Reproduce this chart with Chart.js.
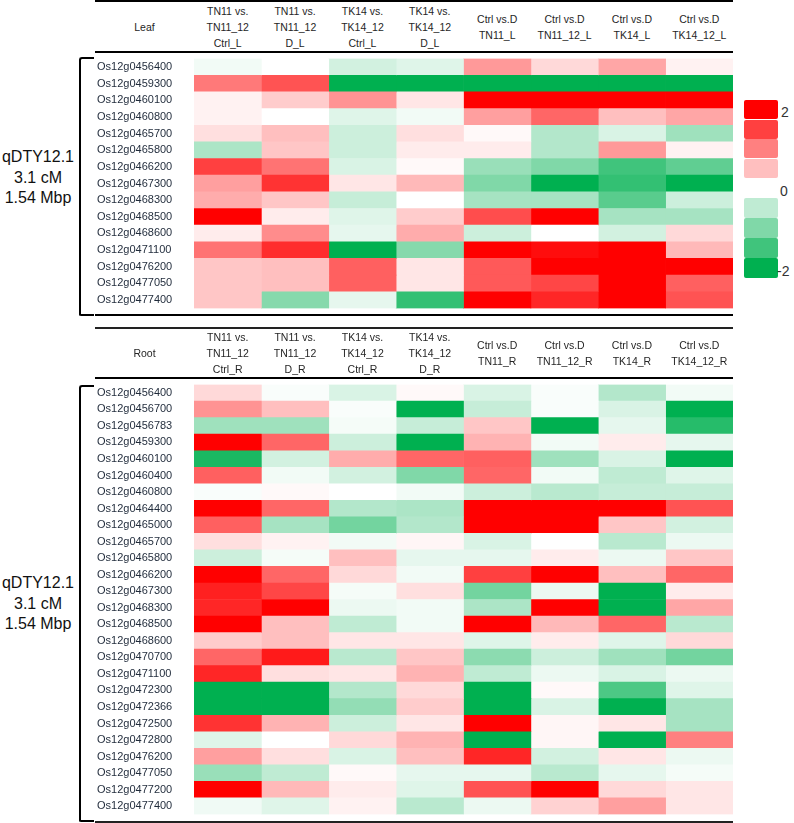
<!DOCTYPE html>
<html>
<head>
<meta charset="utf-8">
<script src="https://cdn.jsdelivr.net/npm/chart.js@4.4.0/dist/chart.umd.min.js"></script>
<style>
  body { margin: 0; background: #fff; font-family: "Liberation Sans", Arial, sans-serif; color: #262626; }
  #page { position: relative; width: 794px; height: 823px; overflow: hidden; }
  .rule { position: absolute; left: 95px; width: 638px; background: #000; }
  .head { position: absolute; left: 95px; width: 638px; display: flex; }
  .head div { display: flex; flex-direction: column; justify-content: center; align-items: center; font-size: 10.5px; line-height: 16px; white-space: nowrap; }
  .head .rowname { width: 99px; }
  .head .col { flex: 1; }
  .bracket { position: absolute; left: 79px; width: 13px; border-left: 2px solid #000; border-top: 2px solid #000; border-bottom: 2px solid #000; border-top-left-radius: 3px; border-bottom-left-radius: 2px; }
  .qtl { position: absolute; left: 0; width: 76px; text-align: center; font-size: 16px; line-height: 20.5px; color: #111; }
  .box { position: absolute; left: 744px; width: 34px; border-radius: 2px; }
  .tick { position: absolute; font-size: 14px; color: #333; }
  canvas { position: absolute; left: 97px; }
</style>
</head>
<body>
<div id="page">
  <!-- Leaf -->
  <div class="rule" style="top:0;height:2px"></div>
  <div class="head" id="leafHead" style="top:2px;height:49px"></div>
  <div class="rule" style="top:51px;height:1.5px"></div>
  <canvas id="leafChart" width="636" height="263" style="top:52px"></canvas>
  <div class="rule" style="top:314px;height:2px"></div>
  <div class="bracket" style="top:57px;height:255px"></div>
  <div class="qtl" style="top:147px">qDTY12.1<br>3.1 cM<br>1.54 Mbp</div>

  <!-- Root -->
  <div class="rule" style="top:327px;height:2px;background:#222"></div>
  <div class="head" id="rootHead" style="top:329px;height:48px"></div>
  <div class="rule" style="top:377px;height:1.5px"></div>
  <canvas id="rootChart" width="636" height="443" style="top:378px"></canvas>
  <div class="rule" style="top:821px;height:2px;background:#222"></div>
  <div class="bracket" style="top:385px;height:433px"></div>
  <div class="qtl" style="top:573px">qDTY12.1<br>3.1 cM<br>1.54 Mbp</div>

  <div id="legend"></div>
</div>

<script>
// Column headers
const leafColumns = [
  ["TN11 vs.", "TN11_12", "Ctrl_L"],
  ["TN11 vs.", "TN11_12", "D_L"],
  ["TK14 vs.", "TK14_12", "Ctrl_L"],
  ["TK14 vs.", "TK14_12", "D_L"],
  ["Ctrl vs.D", "TN11_L"],
  ["Ctrl vs.D", "TN11_12_L"],
  ["Ctrl vs.D", "TK14_L"],
  ["Ctrl vs.D", "TK14_12_L"],
];
const rootColumns = [
  ["TN11 vs.", "TN11_12", "Ctrl_R"],
  ["TN11 vs.", "TN11_12", "D_R"],
  ["TK14 vs.", "TK14_12", "Ctrl_R"],
  ["TK14 vs.", "TK14_12", "D_R"],
  ["Ctrl vs.D", "TN11_R"],
  ["Ctrl vs.D", "TN11_12_R"],
  ["Ctrl vs.D", "TK14_R"],
  ["Ctrl vs.D", "TK14_12_R"],
];

// Leaf genes and log2 fold changes (rows x columns)
const leafGenes = [
  "Os12g0456400", "Os12g0459300", "Os12g0460100", "Os12g0460800", "Os12g0465700",
  "Os12g0465800", "Os12g0466200", "Os12g0467300", "Os12g0468300", "Os12g0468500",
  "Os12g0468600", "Os12g0471100", "Os12g0476200", "Os12g0477050", "Os12g0477400",
];
const leafValues = [
  [-0.1, 0, -0.35, -0.25, 0.8, 0.3, 0.7, 0.1],
  [1.05, 1.35, -2, -2, -2, -2, -2, -2],
  [0.1, 0.4, 0.85, 0.2, 2, 2, 2, 2],
  [0.1, 0, -0.25, -0.1, 0.75, 1.2, 0.5, 0.7],
  [0.25, 0.5, -0.4, 0.25, 0.05, -0.6, -0.3, -0.75],
  [-0.65, 0.45, -0.4, 0.15, 0.15, -0.6, 0.8, 0.1],
  [1.5, 1.1, -0.3, 0.05, -0.8, -1.0, -1.5, -1.25],
  [0.75, 1.6, 0.2, 0.55, -1.0, -2, -1.6, -2],
  [0.65, 0.45, -0.45, 0, -0.7, -0.7, -1.3, -0.4],
  [2, 0.15, -0.25, 0.4, 1.4, 2, -0.7, -0.7],
  [0.15, 0.9, -0.2, 0.65, -0.4, 0, -0.35, 0.3],
  [1.1, 1.65, -2, -0.95, 2, 1.9, 2, 0.55],
  [0.45, 0.5, 1.25, 0.2, 1.3, 2, 2, 2],
  [0.45, 0.5, 1.25, 0.2, 1.3, 1.45, 2, 1.25],
  [0.45, -0.95, -0.2, -1.6, 2, 1.7, 2, 1.35],
];

// Root genes and values
const rootGenes = [
  "Os12g0456400", "Os12g0456700", "Os12g0456783", "Os12g0459300", "Os12g0460100",
  "Os12g0460400", "Os12g0460800", "Os12g0464400", "Os12g0465000", "Os12g0465700",
  "Os12g0465800", "Os12g0466200", "Os12g0467300", "Os12g0468300", "Os12g0468500",
  "Os12g0468600", "Os12g0470700", "Os12g0471100", "Os12g0472300", "Os12g0472366",
  "Os12g0472500", "Os12g0472800", "Os12g0476200", "Os12g0477050", "Os12g0477200",
  "Os12g0477400",
];
const rootValues = [
  [0.3, -0.05, -0.3, 0.05, -0.3, -0.05, -0.6, -0.1],
  [0.85, 0.5, -0.05, -2, -0.45, -0.05, -0.3, -2],
  [-0.75, -0.75, -0.08, -0.45, 0.45, -2, -0.2, -1.7],
  [2, 1.2, -0.4, -2, 0.6, -0.1, 0.15, -0.2],
  [-1.8, -0.35, 0.65, 1.2, 1.25, -0.75, -0.3, -2],
  [1.25, -0.1, -0.35, -1.0, 1.2, -0.1, -0.5, -0.25],
  [-0.05, 0.05, 0, -0.1, -0.4, -0.55, -0.45, -0.45],
  [2, 1.2, -0.6, -0.65, 2, 2, 2, 1.35],
  [1.25, -0.7, -1.1, -0.6, 2, 2, 0.45, -0.35],
  [0.25, 0.1, -0.1, 0.07, -0.3, 0, -0.55, -0.15],
  [-0.4, -0.08, 0.5, -0.2, -0.2, 0.15, -0.15, 0.45],
  [2, 1.2, 0.3, -0.1, 1.5, 2, 0.5, 1.2],
  [1.75, 1.45, -0.08, 0.25, -1.1, -0.15, -2, 0.15],
  [1.7, 2, -0.15, -0.1, -0.65, 2, -2, 0.7],
  [2, 0.5, -0.5, -0.1, 2, 0.55, 1.2, -0.55],
  [0.4, 0.5, 0.2, 0.2, -0.25, 0.15, -0.25, 0.3],
  [1.2, 1.8, -0.55, 0.45, -0.9, -0.4, -0.75, -1.1],
  [1.7, 0.25, 0.2, 0.6, -0.5, -0.15, -0.3, -0.15],
  [-2, -2, -0.6, 0.3, -2, 0.05, -1.4, -0.25],
  [-2, -2, -0.85, 0.4, -2, -0.3, -2, -0.7],
  [1.6, 0.6, -0.4, 0.2, 2, 0.07, 0.2, -0.7],
  [-0.25, 0, 0.3, 0.6, -2, 0.07, -2, 1.0],
  [0.75, 0.25, -0.3, 0.5, 1.7, -0.35, 0.2, -0.15],
  [-0.8, -0.5, 0.05, -0.2, -0.2, -0.55, -0.2, -0.08],
  [2, 0.55, 0.15, -0.25, 1.35, 2, 0.3, 0.2],
  [-0.12, -0.25, 0.1, -0.55, -0.15, 0.35, 0.75, 0.2],
];

// Legend steps
const legendRed = [2, 1.5, 1, 0.5];
const legendGreen = [-0.5, -1, -1.5, -2];

// white -> red for up, white -> green for down
function valueColor(v) {
  const t = Math.min(Math.abs(v) / 2, 1);
  const end = v >= 0 ? [255, 0, 0] : [0, 176, 80];
  const c = end.map((e) => Math.round(255 + (e - 255) * t));
  return "rgb(" + c.join(",") + ")";
}

function buildHead(id, title, columns) {
  const head = document.getElementById(id);
  let html = '<div class="rowname">' + title + "</div>";
  columns.forEach(function (lines) {
    html += '<div class="col">' + lines.map((l) => "<span>" + l + "</span>").join("") + "</div>";
  });
  head.innerHTML = html;
}

buildHead("leafHead", "Leaf", leafColumns);
buildHead("rootHead", "Root", rootColumns);

Chart.defaults.font.family = '"Liberation Sans", Arial, sans-serif';
Chart.defaults.font.size = 11;
Chart.defaults.color = "#262626";

function heatmap(canvasId, genes, columns, values) {
  const datasets = columns.map(function (col, j) {
    return {
      label: col.join(" "),
      data: genes.map(() => 1),
      backgroundColor: values.map((row) => valueColor(row[j])),
      borderWidth: 0,
      barPercentage: 1,
      categoryPercentage: 1,
    };
  });

  return new Chart(document.getElementById(canvasId), {
    type: "bar",
    data: { labels: genes, datasets: datasets },
    options: {
      indexAxis: "y",
      responsive: false,
      animation: false,
      layout: { padding: 0 },
      plugins: {
        legend: { display: false },
        tooltip: {
          callbacks: {
            label: function (context) {
              return context.dataset.label + ": " + values[context.dataIndex][context.datasetIndex];
            },
          },
        },
      },
      scales: {
        x: { stacked: true, min: 0, max: columns.length, display: false },
        y: {
          stacked: true,
          grid: { display: false },
          border: { display: false },
          ticks: { autoSkip: false, crossAlign: "far", padding: 0, color: "#1f2a3a" },
          afterFit: function (scale) {
            scale.width = 97;
          },
        },
      },
    },
  });
}

heatmap("leafChart", leafGenes, leafColumns, leafValues);
heatmap("rootChart", rootGenes, rootColumns, rootValues);

// Colour key
const legend = document.getElementById("legend");
let legendHtml = "";
legendRed.forEach(function (v, i) {
  legendHtml += '<div class="box" style="top:' + (100 + i * 19.5) + 'px;height:19px;background:' + valueColor(v) + '"></div>';
});
legendGreen.forEach(function (v, i) {
  legendHtml += '<div class="box" style="top:' + (198 + i * 20) + 'px;height:19.5px;background:' + valueColor(v) + '"></div>';
});
legendHtml += '<div class="tick" style="left:781px;top:104px">2</div>';
legendHtml += '<div class="tick" style="left:780px;top:183px">0</div>';
legendHtml += '<div class="tick" style="left:777px;top:263px">-2</div>';
legend.innerHTML = legendHtml;
</script>
</body>
</html>
